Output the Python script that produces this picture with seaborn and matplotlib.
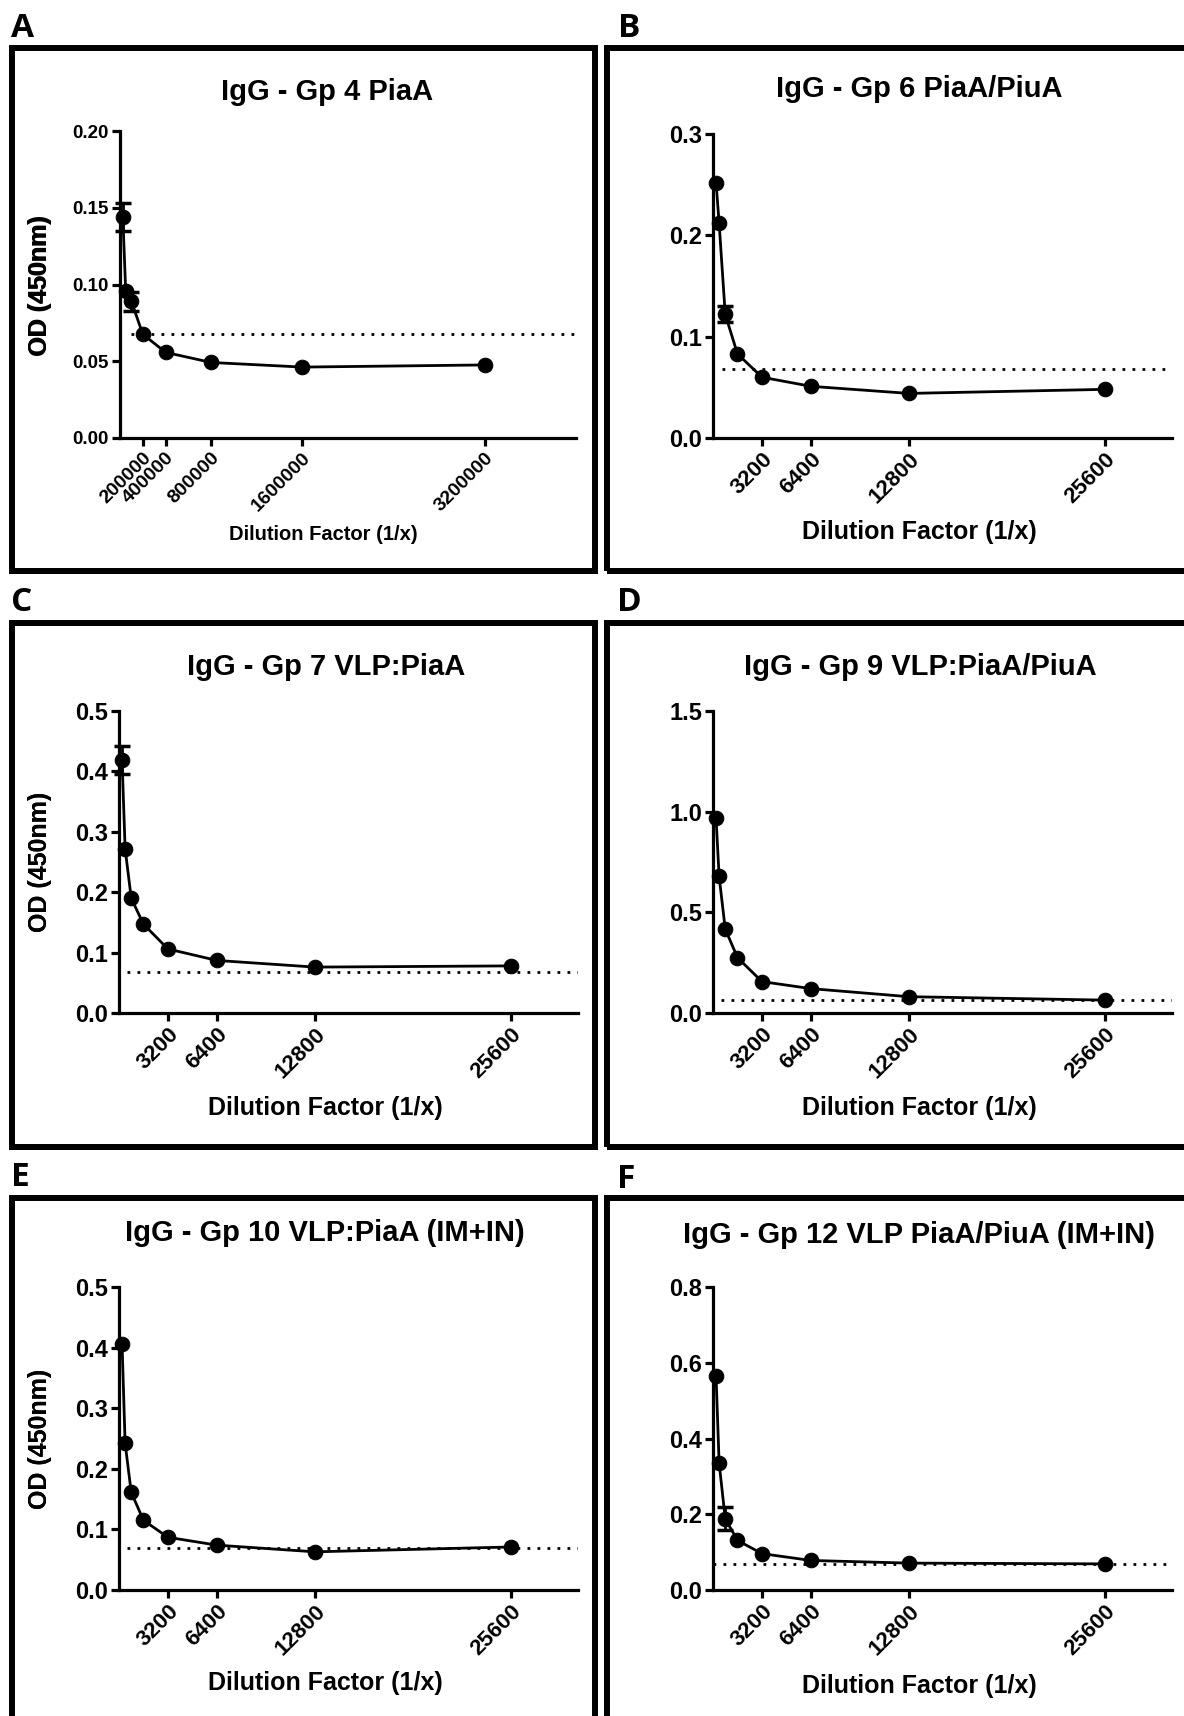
import numpy as np
import pandas as pd
import matplotlib
matplotlib.use("Agg")
import matplotlib.pyplot as plt
import seaborn as sns
from matplotlib.patches import Rectangle

# ---- data ----
panel_letters = ["A", "B", "C", "D", "E", "F"]
titles = ["IgG - Gp 4 PiaA", "IgG - Gp 6 PiaA/PiuA", "IgG - Gp 7 VLP:PiaA",
          "IgG - Gp 9 VLP:PiaA/PiuA", "IgG - Gp 10 VLP:PiaA (IM+IN)",
          "IgG - Gp 12 VLP PiaA/PiuA (IM+IN)"]

dil_A = [25000, 50000, 100000, 200000, 400000, 800000, 1600000, 3200000]
dil_rest = [200, 400, 800, 1600, 3200, 6400, 12800, 25600]

od_A = [0.144, 0.0956, 0.089, 0.0676, 0.0558, 0.0492, 0.0462, 0.0476]
od_B = [0.252, 0.212, 0.122, 0.083, 0.060, 0.051, 0.044, 0.048]
od_C = [0.419, 0.272, 0.190, 0.147, 0.106, 0.087, 0.076, 0.078]
od_D = [0.968, 0.678, 0.417, 0.275, 0.156, 0.121, 0.081, 0.064]
od_E = [0.406, 0.242, 0.161, 0.115, 0.087, 0.074, 0.063, 0.071]
od_F = [0.564, 0.335, 0.188, 0.131, 0.096, 0.078, 0.071, 0.069]

err_A = [0.009, 0, 0.006, 0, 0, 0, 0, 0]
err_B = [0, 0, 0.008, 0, 0, 0, 0, 0]
err_C = [0.023, 0, 0, 0, 0, 0, 0, 0]
err_D = [0, 0, 0, 0, 0, 0, 0, 0]
err_E = [0, 0, 0, 0, 0, 0, 0, 0]
err_F = [0, 0, 0.03, 0, 0, 0, 0, 0]

cutoff = [0.068, 0.068, 0.068, 0.064, 0.069, 0.068]
cutoff_start = [100000, 600, 500, 550, 500, 0]

xticks_A = [200000, 400000, 800000, 1600000, 3200000]
xticks_rest = [3200, 6400, 12800, 25600]
xmax = [4000000, 30000, 30000, 30000, 30000, 30000]
ymax = [0.20, 0.3, 0.5, 1.5, 0.5, 0.8]
ystep = [0.05, 0.1, 0.1, 0.5, 0.1, 0.2]
yfmt = ["%.2f", "%.1f", "%.1f", "%.1f", "%.1f", "%.1f"]

xs = [dil_A] + [dil_rest] * 5
ods = [od_A, od_B, od_C, od_D, od_E, od_F]
errs = [err_A, err_B, err_C, err_D, err_E, err_F]
xticks = [xticks_A] + [xticks_rest] * 5

# ---- layout (pixels, top-left origin) ----
W, H = 1184, 1716
axes_px = [(120, 576, 131, 438), (713, 1172, 134, 438),
           (119, 578, 711, 1013), (713, 1172, 711, 1013),
           (119, 578, 1287, 1590), (713, 1172, 1287, 1590)]
title_px = [(327, 92), (919, 89), (326, 667), (920, 667), (325, 1233), (919, 1235)]
xlabel_px = [(323, 535), (919, 532), (325, 1108), (919, 1108), (325, 1683), (919, 1686)]
letter_px = [(11, 12), (618, 12), (11, 586), (617, 586), (11, 1161), (617, 1163)]
boxes_px = [(12, 48, 595, 571), (607, 48, 1192, 571),
            (12, 623, 595, 1147), (607, 623, 1192, 1147),
            (12, 1198, 595, 1730), (607, 1198, 1192, 1730)]

sns.set_theme(style="ticks")
plt.rcParams["font.family"] = ["Liberation Sans", "DejaVu Sans"]
plt.rcParams["font.weight"] = "bold"
plt.rcParams["axes.labelweight"] = "bold"
for k in ["text.color", "axes.labelcolor", "xtick.color", "ytick.color", "axes.edgecolor"]:
    plt.rcParams[k] = "black"

fig = plt.figure(figsize=(W / 100, H / 100), dpi=100)


def fx(px):
    return px / W


def fy(py):
    return 1 - py / H


for i in range(6):
    l, r, t, b = axes_px[i]
    ax = fig.add_axes([fx(l), fy(b), fx(r - l), (b - t) / H])
    df = pd.DataFrame({"dilution": xs[i], "od": ods[i]})
    sns.lineplot(data=df, x="dilution", y="od", ax=ax, color="black",
                 linewidth=2, marker="o", markersize=10.5, markeredgecolor="black",
                 clip_on=False, zorder=3)
    e = np.array(errs[i])
    m = e > 0
    if m.any():
        ax.errorbar(np.array(xs[i])[m], np.array(ods[i])[m], yerr=e[m], fmt="none",
                    ecolor="black", elinewidth=2, capsize=5.5, capthick=2.5,
                    clip_on=False, zorder=4)
    ax.hlines(cutoff[i], cutoff_start[i], xmax[i], colors="black", linewidth=2,
              linestyles=(0, (1, 2.6)), zorder=2)

    ax.set_xlim(0, xmax[i])
    ax.set_ylim(0, ymax[i])
    ax.set_yticks(np.arange(0, ymax[i] + ystep[i] / 2, ystep[i]))
    ax.yaxis.set_major_formatter(matplotlib.ticker.FormatStrFormatter(yfmt[i]))
    ax.set_xticks(xticks[i])
    ax.set_xticklabels([str(v) for v in xticks[i]], rotation=45, ha="right",
                       rotation_mode="anchor", fontweight="heavy")
    ax.tick_params(axis="x", labelsize=14 if i == 0 else 16)
    ax.tick_params(axis="y", labelsize=13.5 if i == 0 else 17)
    for lab in ax.get_xticklabels() + ax.get_yticklabels():
        lab.set_fontweight("heavy")
    sns.despine(ax=ax)
    for s in ["left", "bottom"]:
        ax.spines[s].set_linewidth(2.3)
        ax.spines[s].set_color("black")
    ax.tick_params(width=2.3, length=6, color="black", pad=2)

    ax.set_ylabel("OD (450nm)", fontsize=18, fontweight="bold")
    ax.yaxis.set_label_coords((52 - l) / (r - l), 0.5)
    ax.set_xlabel("Dilution Factor (1/x)", fontsize=14.5 if i == 0 else 18,
                  fontweight="bold", va="center")
    xl, yl = xlabel_px[i]
    ax.xaxis.set_label_coords((xl - l) / (r - l), (b - yl) / (b - t))

    tx, ty = title_px[i]
    fig.text(fx(tx), fy(ty), titles[i], ha="center", va="center",
             fontsize=21, fontweight="bold")

    lx, ly = letter_px[i]
    fig.text(fx(lx), fy(ly), panel_letters[i], ha="left", va="top",
             fontsize=24, fontweight="bold", family=["Open Sans", "DejaVu Sans"])

    x0, y0, x1, y1 = boxes_px[i]
    fig.add_artist(Rectangle((fx(x0), fy(y1)), fx(x1 - x0), (y1 - y0) / H,
                             transform=fig.transFigure, fill=False,
                             edgecolor="black", linewidth=4.3))

fig.savefig("out.png", dpi=100)
